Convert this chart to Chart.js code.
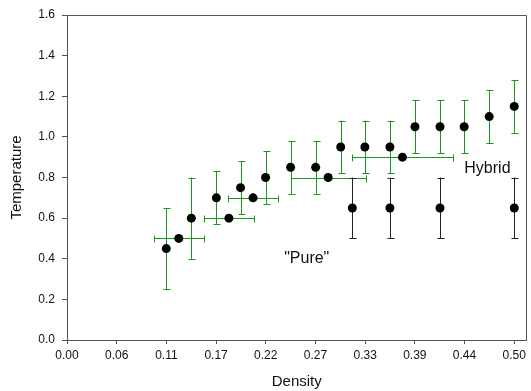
<!DOCTYPE html>
<html>
<head>
<meta charset="utf-8">
<script src="https://cdn.jsdelivr.net/npm/chart.js@4"></script>
<style>
  html, body { margin: 0; padding: 0; background: #fff; }
  canvas { display: block; }
</style>
</head>
<body>
<canvas id="chart" width="531" height="391"></canvas>
<script>
// green-error series: density, temperature and their error half-widths
const densities    = [0.111, 0.125, 0.139, 0.167, 0.181, 0.194, 0.208, 0.222, 0.250, 0.278, 0.292, 0.306, 0.333, 0.361, 0.375, 0.389, 0.417, 0.444, 0.472, 0.500];
const temperatures = [0.45, 0.50, 0.60, 0.70, 0.60, 0.75, 0.70, 0.80, 0.85, 0.85, 0.80, 0.95, 0.95, 0.95, 0.90, 1.05, 1.05, 1.05, 1.10, 1.15];
const tempErr      = [0.20, 0, 0.20, 0.13, 0, 0.13, 0, 0.13, 0.13, 0.13, 0, 0.13, 0.13, 0.13, 0, 0.13, 0.13, 0.13, 0.13, 0.13];
const densErr      = [0, 0.028, 0, 0, 0.028, 0, 0.028, 0, 0, 0, 0.042, 0, 0, 0, 0.056, 0, 0, 0, 0, 0];

// "pure" points with black error bars
const pureDensities    = [0.319, 0.361, 0.417, 0.500];
const pureTemperatures = [0.65, 0.65, 0.65, 0.65];
const pureErr          = [0.15, 0.15, 0.15, 0.15];

// axis ticks
const xTickValues = [0, 0.0556, 0.1111, 0.1667, 0.2222, 0.2778, 0.3333, 0.3889, 0.4444, 0.5];
const xTickLabels = ['0.00', '0.06', '0.11', '0.17', '0.22', '0.27', '0.33', '0.39', '0.44', '0.50'];

// text labels inside the plot
const noteTexts = ['Hybrid', '"Pure"'];
const noteX = [0.470, 0.268];
const noteY = [0.821, 0.378];

const GREEN = '#1a961a';
const DARK = '#222222';
const AXIS = '#555555';
const FONT = "'Liberation Sans', Arial, sans-serif";

function toPoints(xs, ys) {
  return xs.map((x, i) => ({ x: x, y: ys[i] }));
}

// error bars drawn using the chart scales
const errorBars = {
  id: 'errorBars',
  beforeDatasetsDraw(chart) {
    const { ctx, scales: { x, y } } = chart;
    const cap = 3;
    ctx.save();
    ctx.lineWidth = 1;

    function vBar(px, v, e, color) {
      const cx = Math.round(x.getPixelForValue(px)) + 0.5;
      const top = y.getPixelForValue(v + e);
      const bot = y.getPixelForValue(v - e);
      ctx.strokeStyle = color;
      ctx.beginPath();
      ctx.moveTo(cx, top); ctx.lineTo(cx, bot);
      ctx.moveTo(cx - cap, Math.round(top) + 0.5); ctx.lineTo(cx + cap + 1, Math.round(top) + 0.5);
      ctx.moveTo(cx - cap, Math.round(bot) + 0.5); ctx.lineTo(cx + cap + 1, Math.round(bot) + 0.5);
      ctx.stroke();
    }
    function hBar(px, v, e, color) {
      const cy = Math.round(y.getPixelForValue(v)) + 0.5;
      const l = Math.round(x.getPixelForValue(px - e)) + 0.5;
      const r = Math.round(x.getPixelForValue(px + e)) + 0.5;
      ctx.strokeStyle = color;
      ctx.beginPath();
      ctx.moveTo(l, cy); ctx.lineTo(r, cy);
      ctx.moveTo(l, cy - cap); ctx.lineTo(l, cy + cap + 1);
      ctx.moveTo(r, cy - cap); ctx.lineTo(r, cy + cap + 1);
      ctx.stroke();
    }

    densities.forEach((d, i) => {
      if (tempErr[i]) vBar(d, temperatures[i], tempErr[i], GREEN);
      if (densErr[i]) hBar(d, temperatures[i], densErr[i], GREEN);
    });
    pureDensities.forEach((d, i) => vBar(d, pureTemperatures[i], pureErr[i], DARK));
    ctx.restore();
  },
  afterDraw(chart) {
    const { ctx, chartArea: a, scales: { x, y } } = chart;
    ctx.save();
    // top and right frame
    ctx.strokeStyle = AXIS;
    ctx.lineWidth = 1;
    ctx.beginPath();
    ctx.moveTo(Math.round(a.left) + 0.5, Math.round(a.top) + 0.5);
    ctx.lineTo(Math.round(a.right) - 0.5, Math.round(a.top) + 0.5);
    ctx.lineTo(Math.round(a.right) - 0.5, Math.round(a.bottom) + 0.5);
    ctx.stroke();
    // notes
    ctx.fillStyle = '#111';
    ctx.font = '16px ' + FONT;
    ctx.textAlign = 'center';
    ctx.textBaseline = 'alphabetic';
    noteTexts.forEach((t, i) => {
      ctx.fillText(t, x.getPixelForValue(noteX[i]), y.getPixelForValue(noteY[i]));
    });
    ctx.restore();
  }
};

new Chart(document.getElementById('chart'), {
  type: 'scatter',
  data: {
    datasets: [
      {
        label: 'Hybrid',
        data: toPoints(densities, temperatures),
        backgroundColor: '#000',
        borderWidth: 0,
        pointRadius: 4.5,
        pointHoverRadius: 4.5
      },
      {
        label: 'Pure',
        data: toPoints(pureDensities, pureTemperatures),
        backgroundColor: '#000',
        borderWidth: 0,
        pointRadius: 4.5,
        pointHoverRadius: 4.5
      }
    ]
  },
  options: {
    responsive: false,
    animation: false,
    layout: { padding: { top: 15, right: 2, left: 0, bottom: 0 } },
    plugins: {
      legend: { display: false },
      tooltip: { enabled: false }
    },
    scales: {
      x: {
        type: 'linear',
        min: 0,
        max: 0.5137,
        afterBuildTicks: scale => {
          scale.ticks = xTickValues.map(v => ({ value: v }));
        },
        afterFit: scale => { scale.height = 51; },
        grid: { drawOnChartArea: false, drawTicks: true, tickLength: 4, color: AXIS },
        border: { color: AXIS },
        ticks: {
          autoSkip: false,
          maxRotation: 0,
          padding: 4,
          color: '#111',
          font: { family: FONT, size: 12 },
          callback: (v, i) => xTickLabels[i]
        },
        title: {
          display: true,
          text: 'Density',
          color: '#111',
          font: { family: FONT, size: 15, lineHeight: 1 },
          padding: { top: 0, bottom: 2 }
        }
      },
      y: {
        min: 0,
        max: 1.6,
        afterFit: scale => { scale.width = 67; },
        grid: { drawOnChartArea: false, drawTicks: true, tickLength: 5, color: AXIS },
        border: { color: AXIS },
        ticks: {
          stepSize: 0.2,
          padding: 7,
          color: '#111',
          font: { family: FONT, size: 12 },
          callback: v => v.toFixed(1)
        },
        title: {
          display: true,
          text: 'Temperature',
          color: '#111',
          font: { family: FONT, size: 15, lineHeight: 1 },
          padding: { top: 9.5, bottom: 0 }
        }
      }
    }
  },
  plugins: [errorBars]
});
</script>
</body>
</html>
